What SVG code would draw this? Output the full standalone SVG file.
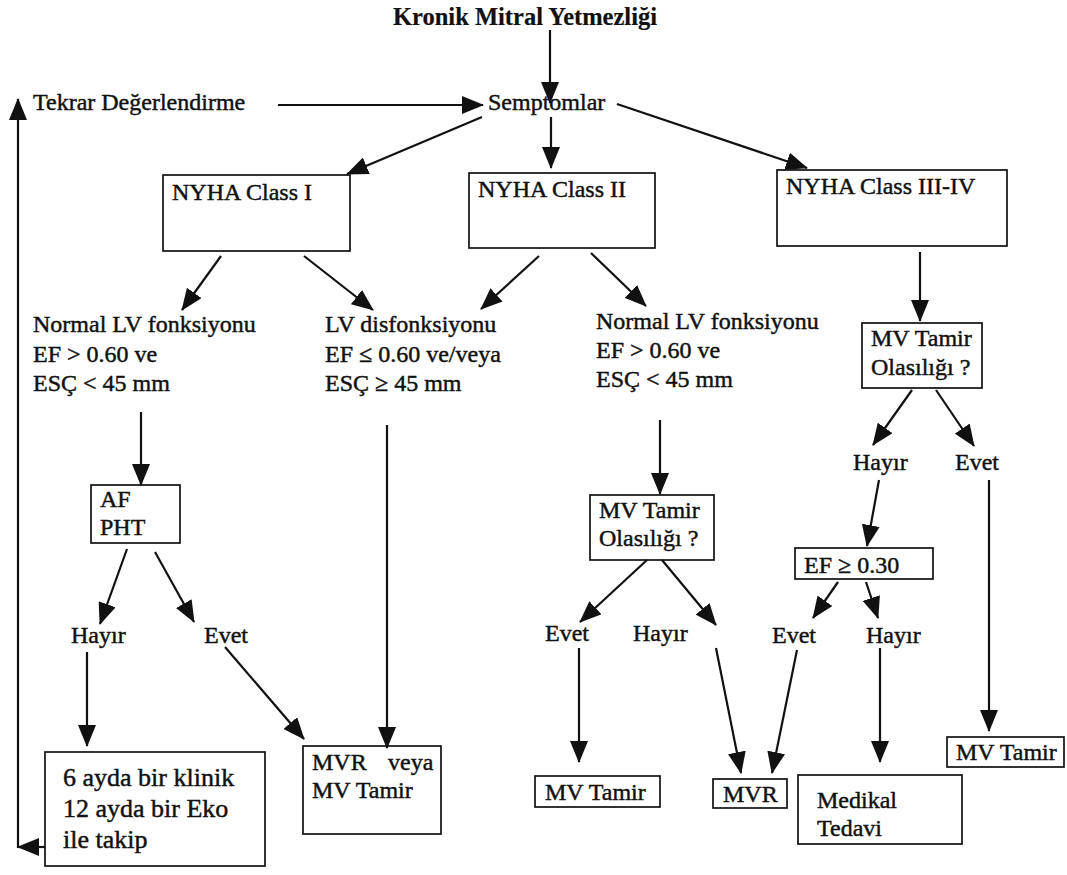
<svg xmlns="http://www.w3.org/2000/svg" width="1067" height="875" viewBox="0 0 1067 875">
<style>
text{font-family:"Liberation Serif","Times New Roman",serif;font-size:24px;fill:#111;stroke:#111;stroke-width:0.45;}
.title{font-weight:bold;font-size:24.5px;stroke-width:0.2;}
.big{font-size:26px;}
rect{fill:#fff;stroke:#111;stroke-width:1.7;}
.c path{fill:none;stroke:#111;stroke-width:2.2;marker-end:url(#ah);}
</style>
<defs>
<marker id="ah" markerUnits="userSpaceOnUse" markerWidth="22" markerHeight="18" refX="21" refY="9" orient="auto">
<path d="M0,0 L22,9 L0,18 z" fill="#111"/>
</marker>
</defs>
<rect x="0" y="0" width="1067" height="875" style="fill:#fff;stroke:none"/>

<g id="title"><text class="title" x="393" y="25">Kronik Mitral Yetmezliği</text></g>
<g id="tekrar"><text x="33" y="110">Tekrar Değerlendirme</text></g>
<g id="semptomlar"><text x="488" y="110">Semptomlar</text></g>

<g id="nyha1"><rect x="163" y="175" width="187" height="76"/><text x="172" y="200">NYHA Class I</text></g>
<g id="nyha2"><rect x="469" y="173" width="186" height="75"/><text x="478" y="197">NYHA Class II</text></g>
<g id="nyha34"><rect x="777" y="170" width="230" height="76"/><text x="786" y="194">NYHA Class III-IV</text></g>

<g id="normal1"><text x="33" y="332">Normal LV fonksiyonu</text><text x="33" y="362">EF &gt; 0.60 ve</text><text x="33" y="391">ESÇ &lt; 45 mm</text></g>
<g id="lvdis"><text x="325" y="332">LV disfonksiyonu</text><text x="325" y="362">EF ≤ 0.60 ve/veya</text><text x="325" y="391">ESÇ ≥ 45 mm</text></g>
<g id="normal2"><text x="596" y="329">Normal LV fonksiyonu</text><text x="596" y="358">EF &gt; 0.60 ve</text><text x="596" y="387">ESÇ &lt; 45 mm</text></g>

<g id="mvtamirq3"><rect x="862" y="323" width="120" height="65"/><text x="871" y="346">MV Tamir</text><text x="871" y="375">Olasılığı ?</text></g>
<g id="hayir3"><text x="853" y="470">Hayır</text></g>
<g id="evet3"><text x="955" y="470">Evet</text></g>
<g id="ef030"><rect x="795" y="548" width="138" height="31"/><text x="804" y="573">EF ≥ 0.30</text></g>
<g id="evet4"><text x="772" y="643">Evet</text></g>
<g id="hayir4"><text x="866" y="643">Hayır</text></g>
<g id="medikal"><rect x="798" y="775" width="164" height="69"/><text x="817" y="808">Medikal</text><text x="817" y="836">Tedavi</text></g>
<g id="mvtamir3"><rect x="947" y="737" width="117" height="30"/><text x="956" y="760">MV Tamir</text></g>

<g id="mvtamirq2"><rect x="590" y="495" width="124" height="65"/><text x="599" y="518">MV Tamir</text><text x="599" y="546">Olasılığı ?</text></g>
<g id="evet2"><text x="545" y="641">Evet</text></g>
<g id="hayir2"><text x="633" y="641">Hayır</text></g>
<g id="mvtamir2"><rect x="535" y="776" width="125" height="31"/><text x="545" y="800">MV Tamir</text></g>
<g id="mvr"><rect x="713" y="779" width="74" height="29"/><text x="723" y="802">MVR</text></g>

<g id="afpht"><rect x="91" y="485" width="89" height="58"/><text x="100" y="507">AF</text><text x="100" y="535">PHT</text></g>
<g id="hayir1"><text x="71" y="643">Hayır</text></g>
<g id="evet1"><text x="204" y="643">Evet</text></g>
<g id="takip"><rect x="45" y="752" width="220" height="114"/><text class="big" x="63" y="786">6 ayda bir klinik</text><text class="big" x="63" y="817">12 ayda bir Eko</text><text class="big" x="63" y="848">ile takip</text></g>
<g id="mvrveya"><rect x="303" y="746" width="138" height="88"/><text x="312" y="770">MVR<tspan x="388">veya</tspan></text><text x="312" y="798">MV Tamir</text></g>

<g id="connectors" class="c">
<path d="M550,30 L550,103"/>
<path d="M278,105 L483,105"/>
<path d="M482,117 L347,174"/>
<path d="M551,117 L551,168"/>
<path d="M617,104 L807,168"/>
<path d="M221,256 L182,310"/>
<path d="M304,256 L373,310"/>
<path d="M539,256 L481,309"/>
<path d="M591,253 L646,306"/>
<path d="M920,252 L920,321"/>
<path d="M141,412 L141,485"/>
<path d="M387,425 L387,748"/>
<path d="M660,420 L660,494"/>
<path d="M127,549 L100,624"/>
<path d="M155,552 L194,622"/>
<path d="M87,652 L87,746"/>
<path d="M225,647 L304,739"/>
<path d="M45,847 L18,847"/>
<path d="M18,848 L18,99"/>
<path d="M647,560 L580,622"/>
<path d="M662,560 L716,625"/>
<path d="M579,648 L579,762"/>
<path d="M716,648 L741,773"/>
<path d="M912,390 L873,445"/>
<path d="M936,390 L974,446"/>
<path d="M879,480 L867,546"/>
<path d="M838,582 L813,618"/>
<path d="M866,582 L878,618"/>
<path d="M797,650 L772,773"/>
<path d="M880,648 L880,762"/>
<path d="M989,480 L989,731"/>
</g>
</svg>
